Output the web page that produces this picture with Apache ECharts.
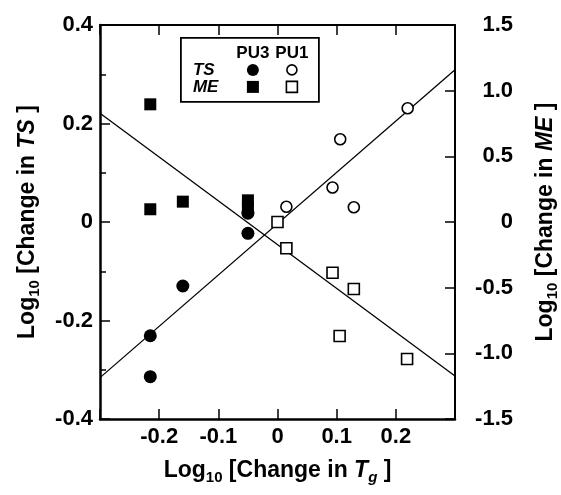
<!DOCTYPE html>
<html><head><meta charset="utf-8">
<script src="https://cdn.jsdelivr.net/npm/echarts@6/dist/echarts.min.js"></script>
<style>html,body{margin:0;padding:0;background:#fff}#c{width:561px;height:495px}</style>
</head><body><div id="c"></div>
<script>
// ---- data ----
const tsPU3_x = [-0.215, -0.215, -0.16, -0.05, -0.05];
const tsPU3_y = [-0.231, -0.314, -0.13, -0.023, 0.018];
const tsPU1_x = [0.015, 0.093, 0.106, 0.129, 0.220];
const tsPU1_y = [0.031, 0.070, 0.168, 0.030, 0.231];
const mePU3_x = [-0.215, -0.215, -0.16, -0.05, -0.05];
const mePU3_y = [0.896, 0.097, 0.155, 0.165, 0.11];
const mePU1_x = [0.0, 0.015, 0.093, 0.129, 0.105, 0.219];
const mePU1_y = [0.0, -0.20, -0.386, -0.51, -0.868, -1.043];
const tsFit_x = [-0.3, 0.3];
const tsFit_y = [-0.316, 0.309];
const meFit_x = [-0.3, 0.3];
const meFit_y = [0.828, -1.173];
const xTicks = ['-0.2', '-0.1', '0', '0.1', '0.2'];
const leftTicks = ['-0.4', '-0.2', '0', '0.2', '0.4'];
const rightTicks = ['-1.5', '-1.0', '-0.5', '0', '0.5', '1.0', '1.5'];

const zip = (a, b) => a.map((v, i) => [v, b[i]]);
const FONT = 'Liberation Sans, Arial, Helvetica, sans-serif';
const fmtFrom = (list) => (v) => {
  const s = Math.abs(v) < 1e-9 ? '0' : v.toFixed(1);
  return list.includes(s) ? s : '';
};
const labelStyle = {color: '#000', fontFamily: FONT, fontWeight: 'bold', fontSize: 22};
const rich = {
  sub: {fontSize: 15, fontWeight: 'bold', fontFamily: FONT, verticalAlign: 'bottom', lineHeight: 15},
  it: {fontSize: 23, fontWeight: 'bold', fontStyle: 'italic', fontFamily: FONT},
  itsub: {fontSize: 15, fontWeight: 'bold', fontStyle: 'italic', fontFamily: FONT, verticalAlign: 'bottom', lineHeight: 15}
};
const nameStyle = {color: '#000', fontFamily: FONT, fontWeight: 'bold', fontSize: 23, lineHeight: 29, rich: rich};
const axisLine = {show: true, onZero: false, lineStyle: {color: '#000', width: 2}};
const tick = {inside: true, length: 10, lineStyle: {color: '#000', width: 1.5}};

const chart = echarts.init(document.getElementById('c'), null, {renderer: 'canvas'});
chart.setOption({
  animation: false,
  backgroundColor: '#fff',
  grid: {left: 100, right: 106, top: 25, bottom: 76, containLabel: false, outerBoundsMode: 'none'},
  xAxis: [{
    type: 'value', position: 'bottom', min: -0.3, max: 0.3, interval: 0.1,
    axisLine: {show: true, onZero: false, lineStyle: {color: '#000', width: 2.5}},
    splitLine: {show: false}, axisTick: tick,
    axisLabel: Object.assign({margin: 7, formatter: fmtFrom(xTicks)}, labelStyle),
    name: 'Log{sub|10} [Change in {it|T}{itsub|g} ]', nameLocation: 'middle', nameGap: 37,
    nameTextStyle: nameStyle
  }, {
    type: 'value', position: 'top', min: -0.3, max: 0.3, interval: 0.1,
    axisLine: axisLine, splitLine: {show: false}, axisTick: tick,
    axisLabel: {show: false}
  }],
  yAxis: [{
    type: 'value', position: 'left', min: -0.4, max: 0.4, interval: 0.2,
    axisLine: {show: true, onZero: false, lineStyle: {color: '#000', width: 2.5}},
    splitLine: {show: false}, axisTick: tick,
    minorTick: {show: true, splitNumber: 2, length: 6, lineStyle: {color: '#000', width: 1.5}},
    minorSplitLine: {show: false},
    axisLabel: Object.assign({margin: 7, formatter: fmtFrom(leftTicks)}, labelStyle),
    name: 'Log{sub|10} [Change in {it|TS} ]', nameLocation: 'middle', nameRotate: 90, nameGap: 58,
    nameTextStyle: nameStyle
  }, {
    type: 'value', position: 'right', min: -1.5, max: 1.5, interval: 0.5,
    axisLine: axisLine, splitLine: {show: false}, axisTick: tick,
    axisLabel: Object.assign({margin: 58, align: 'right', formatter: fmtFrom(rightTicks)}, labelStyle),
    name: 'Log{sub|10} [Change in {it|ME} ]', nameLocation: 'middle', nameRotate: 90, nameGap: 76,
    nameTextStyle: nameStyle
  }],
  series: [
    {type: 'line', xAxisIndex: 0, yAxisIndex: 0, data: zip(tsFit_x, tsFit_y), symbol: 'none',
     lineStyle: {color: '#000', width: 1.3}, z: 1},
    {type: 'line', xAxisIndex: 0, yAxisIndex: 1, data: zip(meFit_x, meFit_y), symbol: 'none',
     lineStyle: {color: '#000', width: 1.3}, z: 1},
    {type: 'scatter', xAxisIndex: 0, yAxisIndex: 0, data: zip(tsPU3_x, tsPU3_y), symbol: 'circle', symbolSize: 13,
     itemStyle: {color: '#000', opacity: 1}, z: 3},
    {type: 'scatter', xAxisIndex: 0, yAxisIndex: 0, data: zip(tsPU1_x, tsPU1_y), symbol: 'circle', symbolSize: 11,
     itemStyle: {color: '#fff', borderColor: '#000', borderWidth: 1.6, opacity: 1}, z: 3},
    {type: 'scatter', xAxisIndex: 0, yAxisIndex: 1, data: zip(mePU3_x, mePU3_y), symbol: 'rect', symbolSize: 12,
     itemStyle: {color: '#000', opacity: 1}, z: 3},
    {type: 'scatter', xAxisIndex: 0, yAxisIndex: 1, data: zip(mePU1_x, mePU1_y), symbol: 'rect', symbolSize: 11,
     itemStyle: {color: '#fff', borderColor: '#000', borderWidth: 1.6, opacity: 1}, z: 3}
  ],
  graphic: [{
    type: 'group', left: 180, top: 37, z: 10,
    children: [
      {type: 'rect', shape: {x: 0, y: 0, width: 138, height: 64}, style: {fill: '#fff', stroke: '#000', lineWidth: 1.8}},
      {type: 'text', x: 72, y: 15, style: {text: 'PU3', font: 'bold 17px ' + FONT, fill: '#000', align: 'center', verticalAlign: 'middle'}},
      {type: 'text', x: 111, y: 15, style: {text: 'PU1', font: 'bold 17px ' + FONT, fill: '#000', align: 'center', verticalAlign: 'middle'}},
      {type: 'text', x: 12, y: 32, style: {text: 'TS', font: 'italic bold 17px ' + FONT, fill: '#000', align: 'left', verticalAlign: 'middle'}},
      {type: 'text', x: 12, y: 49, style: {text: 'ME', font: 'italic bold 17px ' + FONT, fill: '#000', align: 'left', verticalAlign: 'middle'}},
      {type: 'circle', shape: {cx: 72, cy: 32, r: 6}, style: {fill: '#000'}},
      {type: 'circle', shape: {cx: 111, cy: 32, r: 5}, style: {fill: '#fff', stroke: '#000', lineWidth: 1.6}},
      {type: 'rect', shape: {x: 66, y: 43, width: 12, height: 12}, style: {fill: '#000'}},
      {type: 'rect', shape: {x: 105.5, y: 43.5, width: 11, height: 11}, style: {fill: '#fff', stroke: '#000', lineWidth: 1.6}}
    ]
  }]
});
</script></body></html>
